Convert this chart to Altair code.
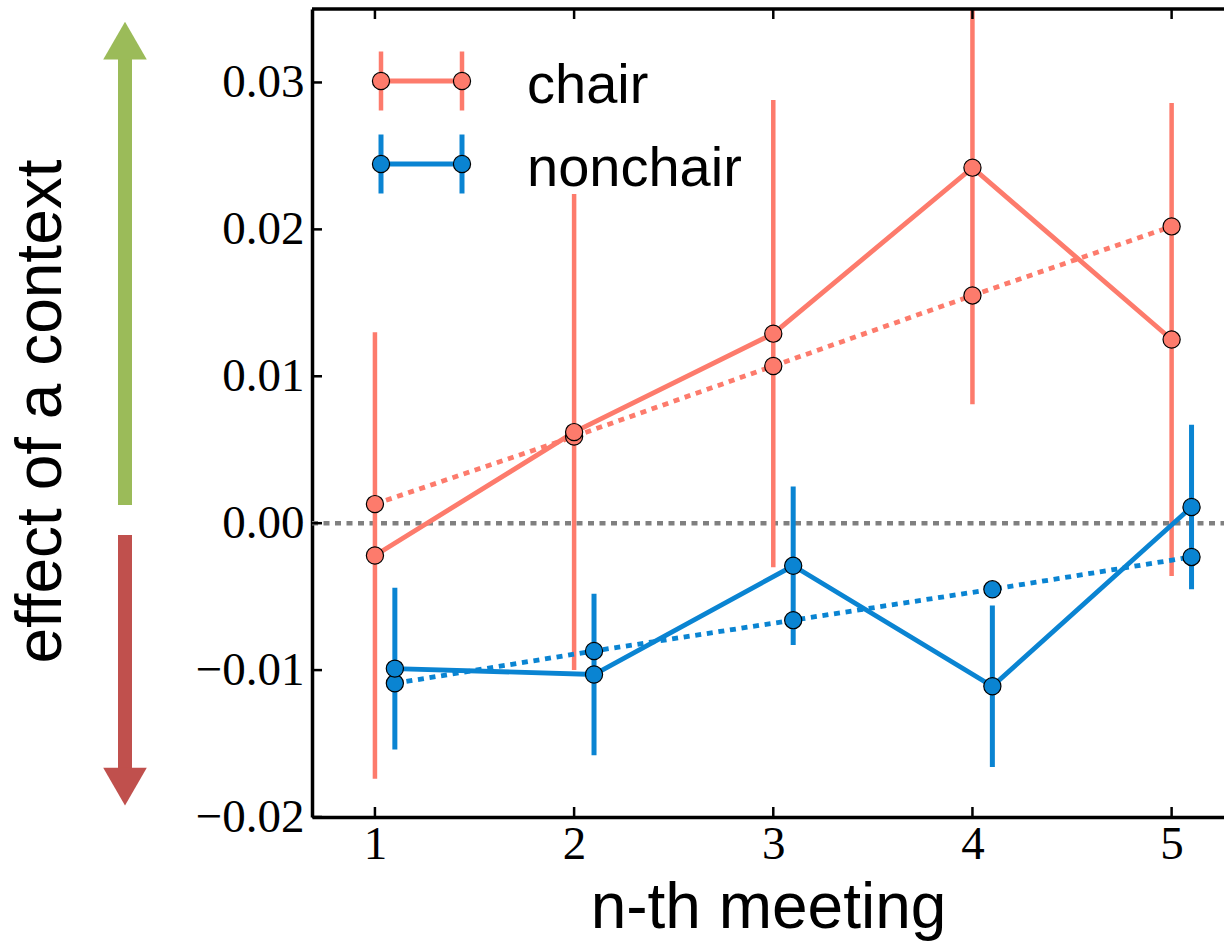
import altair as alt
import pandas as pd

# ---------------- data ----------------
meetings = [1, 2, 3, 4, 5]
series_names = ["chair", "nonchair"]
chair_mean = [-0.0022, 0.0062, 0.0129, 0.0242, 0.0125]
chair_err = [0.0152, 0.0162, 0.0159, 0.0161, 0.0161]
chair_fit = [0.0013, 0.0059, 0.0107, 0.0155, 0.0202]
nonchair_mean = [-0.0099, -0.0103, -0.0029, -0.0111, 0.0011]
nonchair_err = [0.0055, 0.0055, 0.0054, 0.0055, 0.0056]
nonchair_fit = [-0.0109, -0.0087, -0.0066, -0.0045, -0.0023]
nonchair_shift = 0.1
zero_level = [0.0]
y_ticks = [-0.02, -0.01, 0.0, 0.01, 0.02, 0.03]
x_ticks = [1, 2, 3, 4, 5]

RED = "#fd7b6c"
BLUE = "#0a84d2"
W, H = 912, 808
MSIZE = 295


def table(xs, mean, err, fit):
    return pd.DataFrame({
        "x": xs, "mean": mean, "fit": fit,
        "lo": [m - e for m, e in zip(mean, err)],
        "hi": [m + e for m, e in zip(mean, err)],
    })


chair_df = table(meetings, chair_mean, chair_err, chair_fit)
nonchair_df = table([m + nonchair_shift for m in meetings],
                    nonchair_mean, nonchair_err, nonchair_fit)

xscale = alt.Scale(domain=[0.684, 5.263], nice=False, zero=False)
yscale = alt.Scale(domain=[-0.02, 0.035], nice=False, zero=False)

xaxis = alt.Axis(values=x_ticks, format="d", title="n-th meeting",
                 labelPadding=4, titleY=110)
yaxis = alt.Axis(values=y_ticks, format=".2f", title="effect of a context",
                 labelPadding=8, titleX=-252, titleY=402)


def X(field="x"):
    return alt.X(f"{field}:Q", scale=xscale, axis=xaxis)


def Y(field):
    return alt.Y(f"{field}:Q", scale=yscale, axis=yaxis)


one = pd.DataFrame({"k": [0]})

zero_line = alt.Chart(pd.DataFrame({"v": zero_level})).mark_rule(
    color="#808080", strokeWidth=4.5, strokeDash=[6, 5.5]
).encode(y=Y("v"), x=alt.value(0), x2=alt.value(W))


def series_layers(df, color, barw):
    bars = alt.Chart(df).mark_rule(color=color, strokeWidth=barw, clip=True).encode(
        x=X(), y=Y("lo"), y2="hi")
    solid = alt.Chart(df).mark_line(color=color, strokeWidth=4.8).encode(
        x=X(), y=Y("mean"))
    dotted = alt.Chart(df).mark_line(color=color, strokeWidth=4.8,
                                      strokeDash=[6, 5.7]).encode(x=X(), y=Y("fit"))
    pts_fit = alt.Chart(df).mark_point(shape="circle", filled=True, fill=color,
                                       stroke="black", strokeWidth=1.2, size=MSIZE,
                                       opacity=1).encode(x=X(), y=Y("fit"))
    pts_mean = alt.Chart(df).mark_point(shape="circle", filled=True, fill=color,
                                        stroke="black", strokeWidth=1.2, size=MSIZE,
                                        opacity=1).encode(x=X(), y=Y("mean"))
    return [bars, solid, dotted, pts_fit, pts_mean]


# inward ticks
yt = pd.DataFrame({"v": y_ticks})
xt = pd.DataFrame({"v": x_ticks})
ytick_layer = alt.Chart(yt).mark_rule(color="black", strokeWidth=2.5).encode(
    y=Y("v"), x=alt.value(0), x2=alt.value(10))
xtick_bottom = alt.Chart(xt).mark_rule(color="black", strokeWidth=2.5).encode(
    x=X("v"), y=alt.value(H - 10), y2=alt.value(H))
xtick_top = alt.Chart(xt).mark_rule(color="black", strokeWidth=2.5).encode(
    x=X("v"), y=alt.value(0), y2=alt.value(10))
top_spine = alt.Chart(one).mark_rule(color="black", strokeWidth=3.5).encode(
    y=alt.value(0), x=alt.value(0), x2=alt.value(W))


# manual legend
def legend_entry(name, color, barw, ly):
    layers = []
    layers.append(alt.Chart(one).mark_rule(color=color, strokeWidth=4.8).encode(
        x=alt.value(69), x2=alt.value(150), y=alt.value(ly)))
    for lx in (69, 150):
        layers.append(alt.Chart(one).mark_rule(color=color, strokeWidth=barw).encode(
            x=alt.value(lx), y=alt.value(ly - 29.5), y2=alt.value(ly + 29.5)))
        layers.append(alt.Chart(one).mark_point(
            shape="circle", filled=True, fill=color, stroke="black",
            strokeWidth=1.2, size=MSIZE, opacity=1).encode(
            x=alt.value(lx), y=alt.value(ly)))
    layers.append(alt.Chart(one).mark_text(
        align="left", baseline="alphabetic", font="Liberation Sans",
        fontSize=56, color="black").encode(
        x=alt.value(215), y=alt.value(ly + 22), text=alt.value(name)))
    return layers


# arrows at the left
arrow_x = -187
green_shaft = alt.Chart(one).mark_rule(color="#9bbb59", strokeWidth=14, strokeCap="butt").encode(
    x=alt.value(arrow_x), y=alt.value(496), y2=alt.value(48))
green_head = alt.Chart(one).mark_point(shape="triangle-up", filled=True,
                                       fill="#9bbb59", opacity=1, size=1900,
                                       strokeWidth=0).encode(
    x=alt.value(arrow_x), y=alt.value(31.5))
red_shaft = alt.Chart(one).mark_rule(color="#c0504d", strokeWidth=14, strokeCap="butt").encode(
    x=alt.value(arrow_x), y=alt.value(526), y2=alt.value(761))
red_head = alt.Chart(one).mark_point(shape="triangle-down", filled=True,
                                     fill="#c0504d", opacity=1, size=1900,
                                     strokeWidth=0).encode(
    x=alt.value(arrow_x), y=alt.value(777.5))

layers = [zero_line]
layers += series_layers(chair_df, RED, 4.5)
layers += series_layers(nonchair_df, BLUE, 5)
layers += [ytick_layer, xtick_bottom, xtick_top, top_spine]
layers += legend_entry(series_names[0], RED, 4.5, 72)
layers += legend_entry(series_names[1], BLUE, 5, 155)
layers += [green_shaft, green_head, red_shaft, red_head]

chart = alt.layer(*layers).properties(
    width=W, height=H,
    autosize=alt.AutoSizeParams(type="none"),
    padding={"left": 312, "top": 9, "right": 0, "bottom": 126},
    background="white",
).configure_view(
    strokeWidth=0
).configure_axis(
    labelFont="Liberation Serif", labelFontSize=47, labelColor="black",
    labelFlush=False, labelOverlap=False, ticks=False, grid=False,
    domainColor="black", domainWidth=3.5,
    titleFont="Liberation Sans", titleFontSize=64, titleFontWeight="normal",
    titleColor="black", titleBaseline="alphabetic"
).configure_axisX(
    labelAngle=0
).configure_axisY(
    titleAngle=270, titleAlign="center"
)

chart.save("out.html", embed_options={"renderer": "svg", "actions": False})
